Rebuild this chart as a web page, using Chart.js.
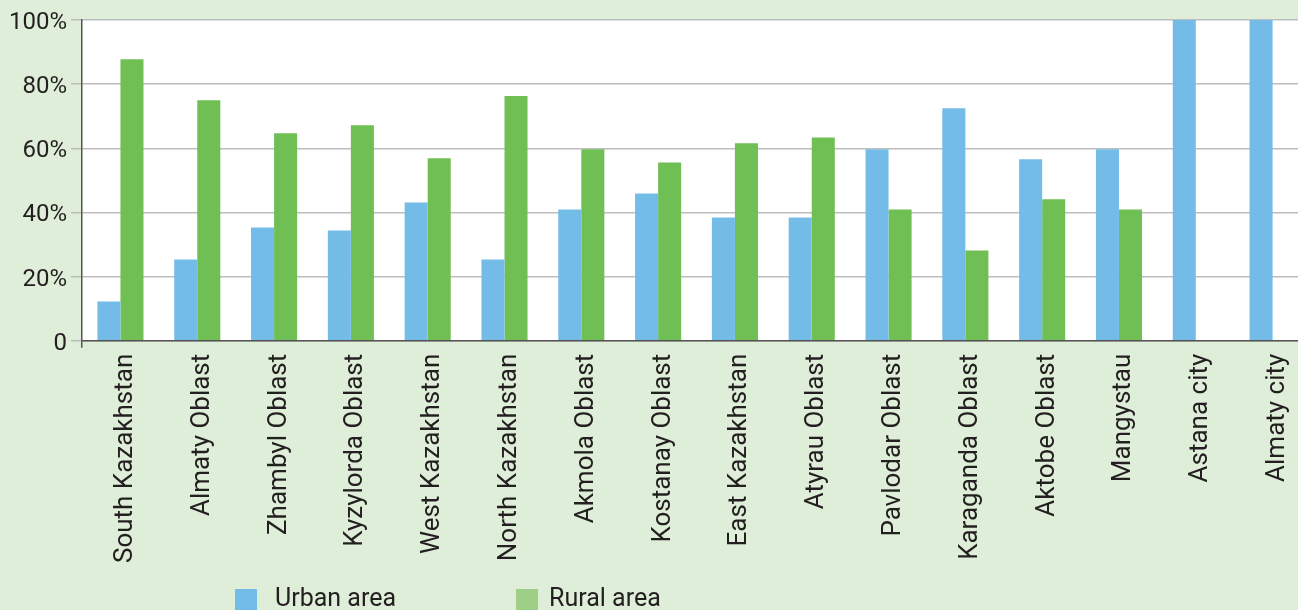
<!DOCTYPE html>
<html>
<head>
<meta charset="utf-8">
<script src="https://cdn.jsdelivr.net/npm/chart.js@4.4.1/dist/chart.umd.min.js"></script>
<style>
  html, body { margin: 0; padding: 0; background: #dfeed9; overflow: hidden; }
  #wrap { position: relative; width: 1312px; height: 610px; }
</style>
</head>
<body>
<div id="wrap"><canvas id="c"></canvas></div>
<script>
const categories = ['South Kazakhstan','Almaty Oblast','Zhambyl Oblast','Kyzylorda Oblast','West Kazakhstan','North Kazakhstan','Akmola Oblast','Kostanay Oblast','East Kazakhstan','Atyrau Oblast','Pavlodar Oblast','Karaganda Oblast','Aktobe Oblast','Mangystau','Astana city','Almaty city'];
const urbanValues = [12.2, 25.3, 35.3, 34.4, 43.1, 25.3, 40.9, 45.9, 38.4, 38.4, 59.7, 72.5, 56.6, 59.7, 100, 100];
const ruralValues = [87.8, 75.0, 64.7, 67.2, 56.9, 76.3, 59.7, 55.6, 61.6, 63.4, 40.9, 28.1, 44.1, 40.9, 0, 0];
const seriesNames = ['Urban area', 'Rural area'];
const yTicks = [0, 20, 40, 60, 80, 100];

const FONT = 'Roboto, "Liberation Sans", Arial, sans-serif';
const TEXT = '#231f20';

const plotBg = {
  id: 'plotBg',
  beforeDraw(chart) {
    const {ctx, chartArea: a} = chart;
    ctx.save();
    ctx.fillStyle = '#ffffff';
    ctx.fillRect(a.left, a.top, a.right - a.left, a.bottom - a.top);
    ctx.restore();
  }
};

const customLegend = {
  id: 'customLegend',
  afterDraw(chart) {
    const ctx = chart.ctx;
    const items = [
      {box: 235, text: 275},
      {box: 516, text: 549}
    ];
    ctx.save();
    ctx.font = '25px ' + FONT;
    ctx.textBaseline = 'middle';
    ctx.textAlign = 'left';
    chart.data.datasets.forEach((ds, i) => {
      const it = items[i];
      ctx.fillStyle = ds.legendColor;
      ctx.fillRect(it.box, 589, 22, 21);
      ctx.fillStyle = TEXT;
      ctx.fillText(ds.label, it.text, 600);
    });
    ctx.restore();
  }
};

new Chart(document.getElementById('c'), {
  type: 'bar',
  data: {
    labels: categories,
    datasets: [
      { label: seriesNames[0], data: urbanValues, backgroundColor: '#74bce8', legendColor: '#74bce8' },
      { label: seriesNames[1], data: ruralValues, backgroundColor: '#70bf55', legendColor: '#9dd086' }
    ]
  },
  options: {
    responsive: true,
    maintainAspectRatio: false,
    animation: false,
    layout: { padding: { left: 5, top: 20, right: 1, bottom: 41 } },
    datasets: { bar: { categoryPercentage: 0.6, barPercentage: 1.0, borderWidth: 0 } },
    plugins: {
      legend: { display: false },
      tooltip: { enabled: false },
      title: { display: false }
    },
    scales: {
      x: {
        offset: true,
        border: { display: true, color: '#555555', width: 1.5 },
        grid: {
          display: true,
          drawOnChartArea: false,
          drawTicks: true,
          tickLength: 7,
          color: (c) => (c.index === 0 ? '#555555' : 'rgba(0,0,0,0)'),
          lineWidth: 1.5
        },
        ticks: {
          autoSkip: false,
          maxRotation: 90,
          minRotation: 90,
          padding: 6,
          labelOffset: 5,
          color: TEXT,
          font: { family: FONT, size: 26 }
        }
      },
      y: {
        min: 0,
        max: 100,
        afterBuildTicks: (axis) => { axis.ticks = yTicks.map(v => ({ value: v })); },
        border: { display: true, color: '#555555', width: 1.5 },
        grid: {
          color: '#bdbdbd',
          lineWidth: 1.5,
          tickLength: 11,
          drawTicks: true
        },
        ticks: {
          padding: 4,
          labelOffset: 3,
          color: TEXT,
          font: { family: FONT, size: 24 },
          callback: (v) => (v === 0 ? '0' : v + '%')
        }
      }
    }
  },
  plugins: [plotBg, customLegend]
});
</script>
</body>
</html>
